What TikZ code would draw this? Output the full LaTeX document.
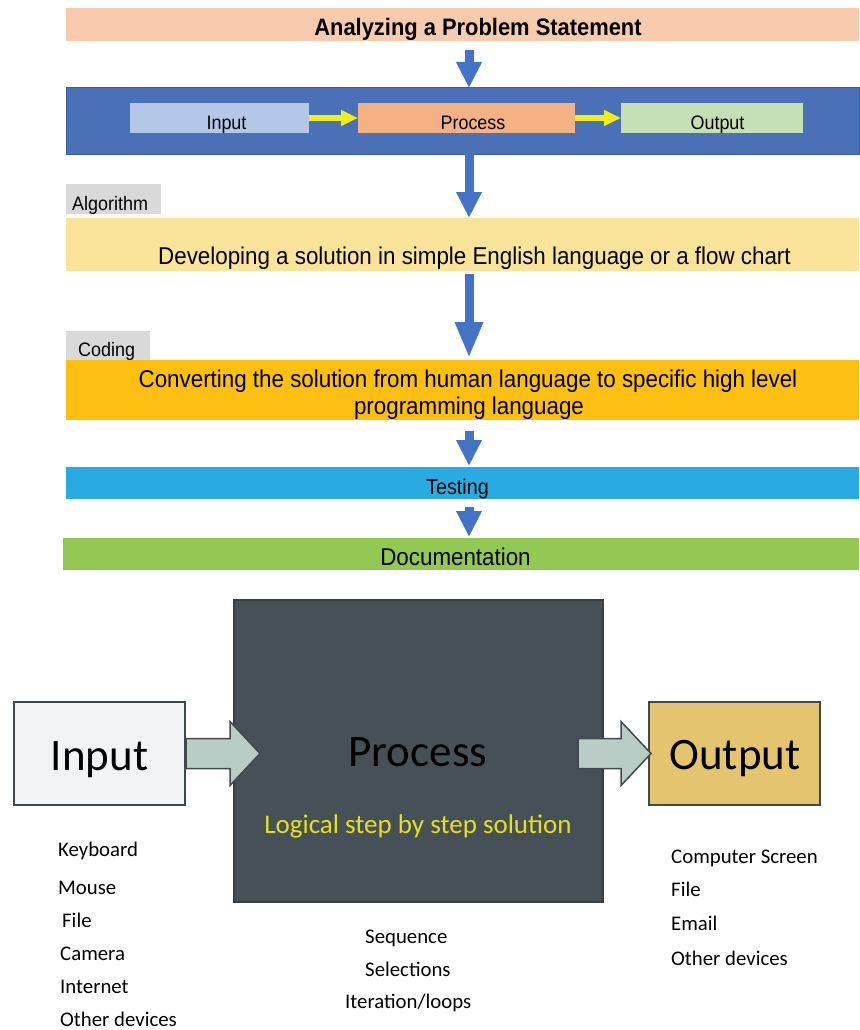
\documentclass[tikz,border=0pt]{standalone}
\usepackage{fontspec}
\setmainfont{Liberation Sans}
\newfontfamily\arialn[FakeStretch=0.92]{Liberation Sans}
\newfontfamily\gill{Carlito}
\usetikzlibrary{arrows.meta}
\definecolor{peach}{HTML}{F8CBAD}
\definecolor{bandblue}{HTML}{4A70B8}
\definecolor{bandblueline}{HTML}{3C5E9E}
\definecolor{inblue}{HTML}{B4C7E7}
\definecolor{procorange}{HTML}{F4B183}
\definecolor{outgreen}{HTML}{C5E0B4}
\definecolor{algyellow}{HTML}{FAE499}
\definecolor{codeorange}{HTML}{FCBF12}
\definecolor{testblue}{HTML}{29ABE2}
\definecolor{docgreen}{HTML}{93C952}
\definecolor{labelgray}{HTML}{D9D9D9}
\definecolor{arrowblue}{HTML}{4472C4}
\definecolor{arrowyellow}{HTML}{F2EE1C}
\definecolor{boxline}{HTML}{3F4A4F}
\definecolor{inputfill}{HTML}{F2F3F5}
\definecolor{procfill}{HTML}{465157}
\definecolor{procline}{HTML}{373F44}
\definecolor{outfill}{HTML}{E4C46E}
\definecolor{blockfill}{HTML}{B9CDC6}
\definecolor{logicyellow}{HTML}{E6DF1E}
\begin{document}
\begin{tikzpicture}[x=1pt,y=-1pt,
  band/.style={draw=none,rectangle,anchor=north west,inner sep=0pt,outer sep=0pt},
  graylabel/.style={band,fill=labelgray},
  toptext/.style={anchor=base,inner sep=0pt,font=\arialn\fontsize{24.3pt}{28pt}\selectfont},
  smalltext/.style={anchor=base,inner sep=0pt,font=\arialn\fontsize{19.5pt}{22pt}\selectfont},
  labeltext/.style={anchor=base west,inner sep=0pt,font=\arialn\fontsize{19.5pt}{22pt}\selectfont},
  bluearrow/.style={draw=arrowblue,line width=9pt,-{Triangle[width=24pt,length=26pt]}},
  yellowarrow/.style={draw=arrowyellow,line width=6pt,-{Triangle[width=15pt,length=17pt]}},
  bigbox/.style={rectangle,anchor=north west,inner sep=0pt,line width=2pt,draw=boxline},
  bigtext/.style={anchor=base,inner sep=0pt,font=\gill\fontsize{45pt}{50pt}\selectfont},
  listtext/.style={anchor=base west,inner sep=0pt,font=\gill\fontsize{20.8pt}{24pt}\selectfont},
  blockarrow/.style={fill=blockfill,draw=boxline,line width=1.5pt,line join=miter}
]
\useasboundingbox (0,0) rectangle (859,1030);

% ---------- top flow ----------
\node[band,fill=peach,minimum width=793pt,minimum height=33pt] (analyze) at (66,8) {};
\node[toptext,font=\arialn\bfseries\fontsize{23.8pt}{28pt}\selectfont] (analyzetxt) at (478,36) {Analyzing a Problem Statement};

\node[band,fill=bandblue,draw=bandblueline,line width=1pt,minimum width=793pt,minimum height=66pt] (ipo) at (66,88) {};
\node[band,fill=inblue,minimum width=179pt,minimum height=30pt] (ipoin) at (130,103) {};
\node[band,fill=procorange,minimum width=217pt,minimum height=30pt] (ipoproc) at (358,103) {};
\node[band,fill=outgreen,minimum width=182pt,minimum height=30pt] (ipoout) at (621,103) {};
\node[smalltext] (ipointxt) at (226.5,129) {Input};
\node[smalltext] (ipoproctxt) at (473,129) {Process};
\node[smalltext] (ipoouttxt) at (717.5,129) {Output};
\draw[yellowarrow] (ipoin.east) -- (ipoproc.west);
\draw[yellowarrow] (ipoproc.east) -- (ipoout.west);

\node[graylabel,minimum width=95pt,minimum height=30pt] (alglabel) at (66,184) {};
\node[labeltext] (algtxt) at (72,210) {Algorithm};
\node[band,fill=algyellow,minimum width=793pt,minimum height=53pt] (alg) at (66,218) {};
\node[toptext] (algbandtxt) at (474.5,264) {Developing a solution in simple English language or a flow chart};

\node[graylabel,minimum width=84pt,minimum height=31pt] (codelabel) at (66,331) {};
\node[labeltext] (codetxt) at (78,356) {Coding};
\node[band,fill=codeorange,minimum width=793pt,minimum height=60pt] (code) at (66,360) {};
\node[toptext] (codetxt1) at (468,387) {Converting the solution from human language to specific high level};
\node[toptext] (codetxt2) at (469,414) {programming language};

\node[band,fill=testblue,minimum width=793pt,minimum height=32pt] (test) at (66,467) {};
\node[toptext,font=\arialn\fontsize{21.5pt}{24pt}\selectfont] (testtxt) at (457.5,494) {Testing};

\node[band,fill=docgreen,minimum width=796pt,minimum height=32pt] (doc) at (63,538) {};
\node[toptext] (doctxt) at (455.5,565) {Documentation};

\coordinate (ax) at (469,0);
\draw[bluearrow,shorten <=9pt] (analyze.south -| ax) -- (ipo.north -| ax);
\draw[bluearrow] (ipo.south -| ax) -- (alg.north -| ax);
\draw[bluearrow,-{Triangle[width=26pt,length=36pt]},shorten <=3pt,shorten >=2pt] (alg.south -| ax) -- (code.north -| ax);
\draw[bluearrow,shorten <=11pt,shorten >=1pt] (code.south -| ax) -- (test.north -| ax);
\draw[bluearrow,shorten <=8pt,shorten >=1pt] (test.south -| ax) -- (doc.north -| ax);

% ---------- bottom IPO ----------
\node[bigbox,fill=procfill,draw=procline,line width=1.5pt,minimum width=369pt,minimum height=302pt] (proc) at (233,599) {};
\node[bigbox,fill=inputfill,minimum width=171pt,minimum height=103pt] (inbox) at (13,701) {};
\node[bigbox,fill=outfill,minimum width=171pt,minimum height=103pt] (outbox) at (648,701) {};

\node[bigtext] (intxt) at (99.5,770) {Input};
\node[bigtext] (proctxt) at (418,766) {Process};
\node[bigtext] (outtxt) at (735,769) {Output};
\node[anchor=base,inner sep=0pt,font=\gill\fontsize{27pt}{30pt}\selectfont,text=logicyellow] (logic) at (418,833) {Logical step by step solution};

\draw[blockarrow,shift={(inbox.east)}] (0,-15) -- (44,-15) -- (44,-32) -- (74,0) -- (44,32) -- (44,15) -- (0,15) -- cycle;
\draw[blockarrow,shift={(outbox.west)}] (-70,-15) -- (-27,-15) -- (-27,-32) -- (3,0) -- (-27,32) -- (-27,15) -- (-70,15) -- cycle;

\node[listtext] (i1) at (58,856) {Keyboard};
\node[listtext] (i2) at (58,894) {Mouse};
\node[listtext] (i3) at (62,927) {File};
\node[listtext] (i4) at (60,960) {Camera};
\node[listtext] (i5) at (60,993) {Internet};
\node[listtext] (i6) at (60,1026) {Other devices};

\node[listtext] (p1) at (365,943) {Sequence};
\node[listtext] (p2) at (365,976) {Selections};
\node[listtext] (p3) at (345,1008) {Iteration/loops};

\node[listtext] (o1) at (671,863) {Computer Screen};
\node[listtext] (o2) at (671,896) {File};
\node[listtext] (o3) at (671,930) {Email};
\node[listtext] (o4) at (671,965) {Other devices};
\end{tikzpicture}
\end{document}
